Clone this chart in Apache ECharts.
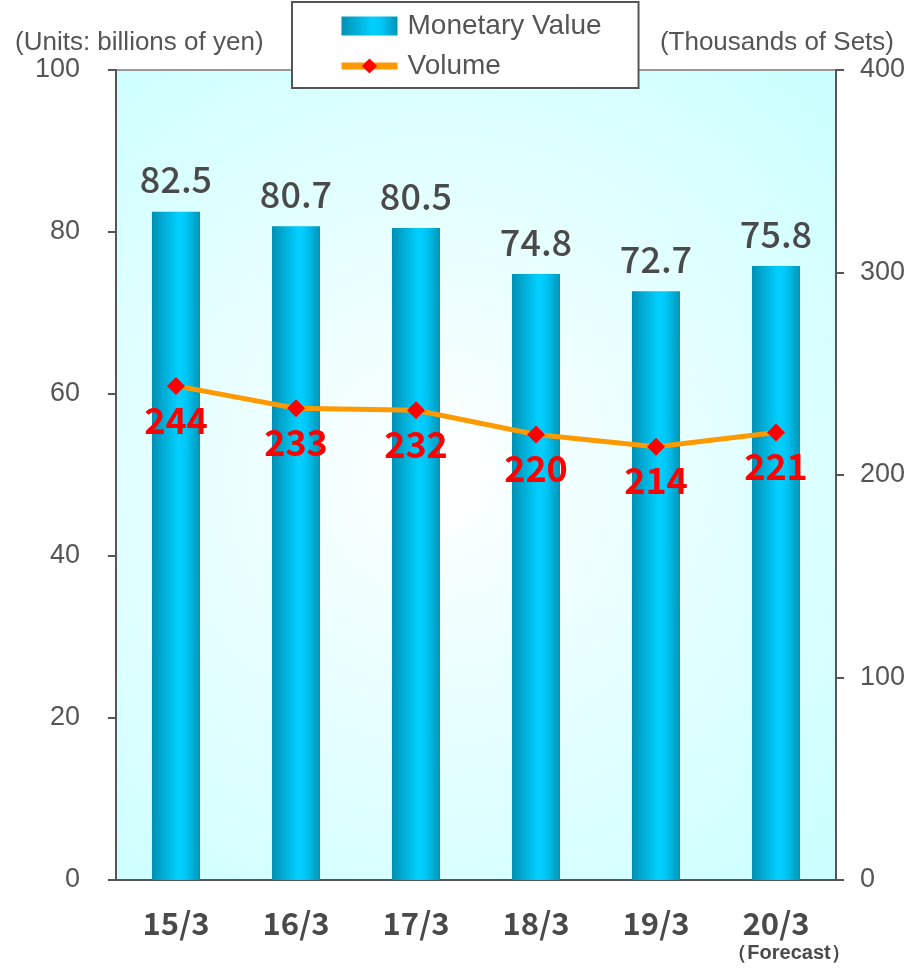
<!DOCTYPE html>
<html>
<head>
<meta charset="utf-8">
<script src="https://cdn.jsdelivr.net/npm/echarts@6/dist/echarts.min.js"></script>
<style>
html,body{margin:0;padding:0;background:#fff;}
#chart{width:914px;height:972px;}
</style>
</head>
<body>
<div id="chart"></div>
<script>
// Fiscal years (year/month of fiscal year end)
const categories = ['15/3', '16/3', '17/3', '18/3', '19/3', '20/3'];
// Monetary value, billions of yen
const monetaryValue = [82.5, 80.7, 80.5, 74.8, 72.7, 75.8];
// Volume, thousands of sets
const volume = [244, 233, 232, 220, 214, 221];
const leftTicks = [0, 20, 40, 60, 80, 100];
const rightTicks = [0, 100, 200, 300, 400];

const chart = echarts.init(document.getElementById('chart'));

const barGradient = new echarts.graphic.LinearGradient(0, 0, 1, 0, [
  { offset: 0, color: '#0090b4' },
  { offset: 0.55, color: '#00d0ff' },
  { offset: 0.7, color: '#00c8f8' },
  { offset: 1, color: '#0095b8' }
]);

chart.setOption({
  animation: false,
  title: [
    {
      text: '(Units: billions of yen)',
      left: 10, top: 25,
      textStyle: { fontFamily: 'Liberation Sans', fontSize: 26, fontWeight: 'normal', color: '#555' }
    },
    {
      text: '(Thousands of Sets)',
      right: 15, top: 25,
      textStyle: { fontFamily: 'Liberation Sans', fontSize: 26, fontWeight: 'normal', color: '#555' }
    }
  ],
  legend: {
    orient: 'vertical',
    left: 292, top: 2,
    padding: [10, 37, 8, 46],
    itemGap: 12,
    itemWidth: 56,
    itemHeight: 19,
    backgroundColor: '#fff',
    borderColor: '#555',
    borderWidth: 2,
    borderRadius: 0,
    textStyle: { fontFamily: 'Liberation Sans', fontSize: 28, color: '#555', padding: [0, 0, 0, 5] },
    data: [
      { name: 'Monetary Value', icon: 'rect' },
      { name: 'Volume', lineStyle: { width: 7, color: '#ff9900' } }
    ]
  },
  grid: {
    left: 116, right: 78, top: 70, bottom: 92,
    show: true,
    borderColor: '#999',
    borderWidth: 2,
    backgroundColor: {
      type: 'radial', x: 0.45, y: 0.5, r: 0.75,
      colorStops: [
        { offset: 0, color: '#ffffff' },
        { offset: 1, color: '#ccffff' }
      ]
    }
  },
  xAxis: {
    type: 'category',
    data: categories,
    axisLine: { lineStyle: { color: '#555', width: 2 } },
    axisTick: { inside: true, length: 8, lineStyle: { color: '#555', width: 2 } },
    axisLabel: {
      interval: 0,
      margin: 28,
      fontFamily: 'Noto Sans CJK JP',
      fontSize: 31,
      fontWeight: 'bold',
      color: '#4a4a4a',
      lineHeight: 30,
      formatter: function (v, i) {
        return i === categories.length - 1 ? v + '\n{f|（Forecast）}' : v;
      },
      rich: {
        f: { fontFamily: 'Liberation Sans', fontSize: 20, fontWeight: 'bold', color: '#4a4a4a', lineHeight: 30, padding: [0, 0, 0, 26] }
      }
    }
  },
  yAxis: [
    {
      type: 'value',
      min: leftTicks[0], max: leftTicks[leftTicks.length - 1], interval: 20,
      splitLine: { show: false },
      axisLine: { show: true, lineStyle: { color: '#555', width: 2 } },
      axisTick: { show: true, length: 8, lineStyle: { color: '#555', width: 2 } },
      axisLabel: { margin: 36, fontFamily: 'Liberation Sans', fontSize: 27, color: '#555' }
    },
    {
      type: 'value',
      min: rightTicks[0], max: rightTicks[rightTicks.length - 1], interval: 100,
      splitLine: { show: false },
      axisLine: { show: true, lineStyle: { color: '#555', width: 2 } },
      axisTick: { show: true, length: 8, lineStyle: { color: '#555', width: 2 } },
      axisLabel: { margin: 24, fontFamily: 'Liberation Sans', fontSize: 27, color: '#555' }
    }
  ],
  series: [
    {
      name: 'Monetary Value',
      type: 'bar',
      data: monetaryValue,
      barWidth: 48,
      itemStyle: { color: barGradient },
      label: {
        show: true,
        position: 'top',
        distance: 14,
        fontFamily: 'Noto Sans CJK JP',
        fontSize: 36,
        fontWeight: 500,
        color: '#4a4a4a',
        formatter: function (p) { return p.value.toFixed(1); }
      }
    },
    {
      name: 'Volume',
      type: 'line',
      yAxisIndex: 1,
      data: volume,
      symbol: 'diamond',
      symbolSize: 18,
      lineStyle: { color: '#ff9900', width: 5 },
      itemStyle: { color: '#ff0000' },
      label: {
        show: true,
        position: 'bottom',
        distance: 7,
        fontFamily: 'Noto Sans CJK JP',
        fontSize: 36,
        fontWeight: 'bold',
        color: '#ff0000'
      },
      z: 5
    }
  ]
});
</script>
</body>
</html>
